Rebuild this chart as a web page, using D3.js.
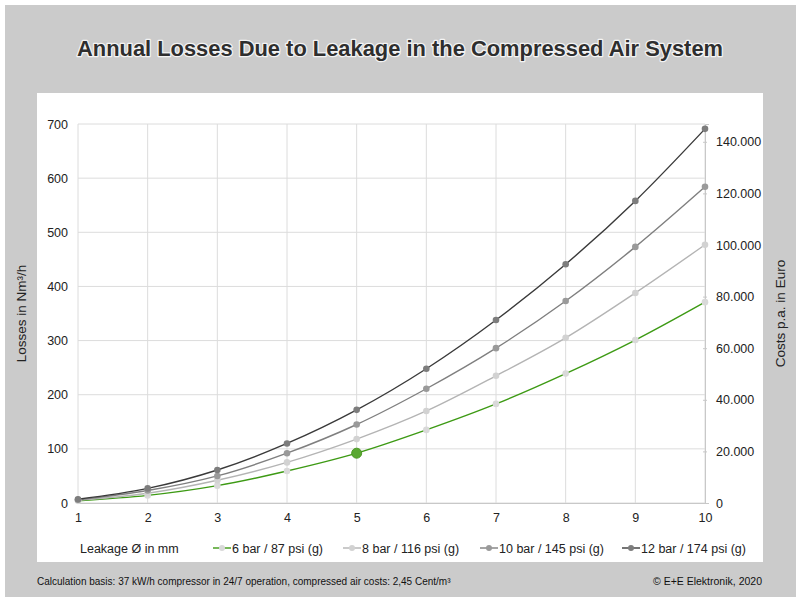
<!DOCTYPE html>
<html>
<head>
<meta charset="utf-8">
<script src="https://cdn.jsdelivr.net/npm/d3@7"></script>
<style>
  html, body { margin: 0; padding: 0; background: #fff; }
  svg { display: block; font-family: "Liberation Sans", Arial, sans-serif; }
</style>
</head>
<body>
<div id="chart"></div>
<script>
// leakage diameter (mm)
const diameters = [1, 2, 3, 4, 5, 6, 7, 8, 9, 10];

// losses in Nm³/h
const bar6 = [4, 14, 32, 59, 92, 135, 183, 239, 301, 371];
const bar8 = [5, 18, 42, 75, 118, 170, 235, 305, 388, 477];
const bar10 = [6, 23, 50, 92, 145, 211, 286, 373, 473, 584];
const bar12 = [7, 27, 61, 110, 172, 248, 338, 441, 558, 691];

const seriesNames = ["6 bar / 87 psi (g)", "8 bar / 116 psi (g)", "10 bar / 145 psi (g)", "12 bar / 174 psi (g)"];
const lossTicks = [0, 100, 200, 300, 400, 500, 600, 700];
const costTicks = [0, 20000, 40000, 60000, 80000, 100000, 120000, 140000];

const width = 800, height = 600;
const margin = { left: 78, right: 95, top: 124, bottom: 97 };

const svg = d3.select("#chart").append("svg")
    .attr("width", width)
    .attr("height", height);

// -- background panels --
svg.append("rect").attr("x", 5).attr("y", 5).attr("width", 791).attr("height", 592).attr("fill", "#cbcbcb");
svg.append("rect").attr("x", 37).attr("y", 93).attr("width", 726).attr("height", 469).attr("fill", "#fff");

// title with light glow
const titleText = "Annual Losses Due to Leakage in the Compressed Air System";
const titleG = svg.append("g").attr("font-size", 22).attr("font-weight", "bold").attr("text-anchor", "middle");
titleG.append("text").attr("x", 400).attr("y", 56).attr("fill", "none")
    .attr("stroke", "#f4f4f4").attr("stroke-width", 2.5).attr("stroke-linejoin", "round")
    .attr("textLength", 646).attr("lengthAdjust", "spacingAndGlyphs")
    .text(titleText);
titleG.append("text").attr("x", 400).attr("y", 56).attr("fill", "#2e2e2e")
    .attr("textLength", 646).attr("lengthAdjust", "spacingAndGlyphs")
    .text(titleText);

const x = d3.scaleLinear().domain([1, 10]).range([margin.left, width - margin.right]);
const y = d3.scaleLinear().domain([0, 700]).range([height - margin.bottom, margin.top]);
const y2 = d3.scaleLinear().domain([0, 146900]).range([height - margin.bottom, margin.top]);

// -- grid --
const grid = svg.append("g").attr("stroke", "#dcdcdc").attr("stroke-width", 1);
grid.selectAll("line.v").data(diameters).join("line")
    .attr("x1", d => x(d)).attr("x2", d => x(d))
    .attr("y1", y(700)).attr("y2", y(0));
grid.selectAll("line.h").data(lossTicks).join("line")
    .attr("x1", x(1)).attr("x2", x(10))
    .attr("y1", d => y(d)).attr("y2", d => y(d));

// -- axes --
const xAxis = svg.append("g")
    .attr("transform", `translate(0,${y(0)})`)
    .call(d3.axisBottom(x).tickValues(diameters).tickSize(0).tickPadding(10).tickFormat(d3.format("d")));
xAxis.select(".domain").attr("stroke", "#c8c8c8");

const yAxis = svg.append("g")
    .attr("transform", `translate(${x(1)},0)`)
    .call(d3.axisLeft(y).tickValues(lossTicks).tickSize(0).tickPadding(10));
yAxis.select(".domain").remove();

const costFormat = d => d3.format(",")(d).replace(/,/g, ".");
const y2Axis = svg.append("g")
    .attr("transform", `translate(${x(10)},0)`)
    .call(d3.axisRight(y2).tickValues(costTicks).tickSize(4).tickPadding(7).tickFormat(costFormat));
y2Axis.select(".domain").attr("stroke", "#c8c8c8");
y2Axis.selectAll(".tick line").attr("stroke", "#c8c8c8").attr("x1", -2).attr("x2", 2);

svg.selectAll(".tick text").attr("font-size", 12.5).attr("fill", "#222")
    .attr("font-family", "\"Liberation Sans\", Arial, sans-serif");

// axis titles
svg.append("text")
    .attr("transform", `translate(26,${(y(0) + y(700)) / 2}) rotate(-90)`)
    .attr("text-anchor", "middle").attr("font-size", 13.5).attr("fill", "#222")
    .text("Losses in Nm³/h");
svg.append("text")
    .attr("transform", `translate(785,${(y(0) + y(700)) / 2}) rotate(-90)`)
    .attr("text-anchor", "middle").attr("font-size", 13.5).attr("fill", "#222")
    .text("Costs p.a. in Euro");

// -- series --
const series = [
    { name: seriesNames[0], values: bar6, line: "#3d9a14", marker: "#d9d9d9" },
    { name: seriesNames[1], values: bar8, line: "#b4b4b4", marker: "#d2d2d2" },
    { name: seriesNames[2], values: bar10, line: "#7f7f7f", marker: "#9a9a9a" },
    { name: seriesNames[3], values: bar12, line: "#3a3a3a", marker: "#7d7d7d" }
];

const line = d3.line()
    .x((d, i) => x(diameters[i]))
    .y(d => y(d))
    .curve(d3.curveMonotoneX);

const plot = svg.append("g");
series.forEach(s => {
    plot.append("path")
        .attr("d", line(s.values))
        .attr("fill", "none")
        .attr("stroke", s.line)
        .attr("stroke-width", 1.4);
});
series.forEach((s, si) => {
    plot.append("g").selectAll("circle")
        .data(s.values)
        .join("circle")
        .attr("cx", (d, i) => x(diameters[i]))
        .attr("cy", d => y(d))
        .attr("r", (d, i) => (si === 0 && diameters[i] === 5) ? 5 : 3.3)
        .attr("fill", (d, i) => (si === 0 && diameters[i] === 5) ? "#5aa832" : s.marker)
        .attr("stroke", (d, i) => (si === 0 && diameters[i] === 5) ? "#4c9a25" : "none");
});

// -- legend --
const legendY = 548;
svg.append("text").attr("x", 80).attr("y", legendY + 4.5)
    .attr("font-size", 12.5).attr("fill", "#222").text("Leakage Ø in mm");

const legendX = [213, 343, 480, 622];
const legend = svg.append("g").selectAll("g").data(series).join("g")
    .attr("transform", (d, i) => `translate(${legendX[i]},${legendY})`);
legend.append("line").attr("x1", 0).attr("x2", 18).attr("stroke", d => d.line).attr("stroke-width", 1.4);
legend.append("circle").attr("cx", 9).attr("r", 3).attr("fill", d => d.marker);
legend.append("text").attr("x", 19).attr("y", 4.5)
    .attr("font-size", 12.5).attr("fill", "#222").text(d => d.name);

// -- footer --
svg.append("text").attr("x", 37).attr("y", 585).attr("font-size", 10).attr("fill", "#111")
    .text("Calculation basis: 37 kW/h compressor in 24/7 operation, compressed air costs: 2,45 Cent/m³");
svg.append("text").attr("x", 762).attr("y", 585).attr("text-anchor", "end").attr("font-size", 10.5).attr("fill", "#111")
    .text("© E+E Elektronik, 2020");
</script>
</body>
</html>
